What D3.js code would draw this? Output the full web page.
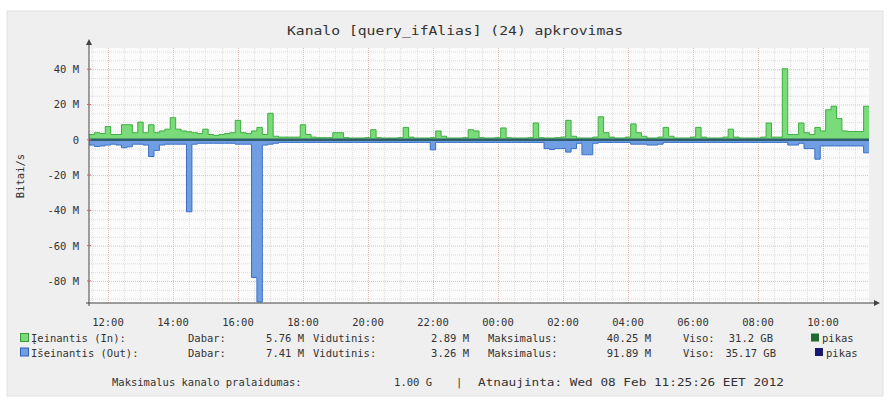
<!DOCTYPE html>
<html><head><meta charset="utf-8">
<script src="https://cdn.jsdelivr.net/npm/d3@7"></script>
<style>body{margin:0;background:#fff}svg{display:block}text{font-family:"DejaVu Sans Mono",monospace;fill:#333}</style>
</head><body><svg id="c" width="889" height="402"></svg>
<script>
const title = "Kanalo [query_ifAlias] (24) apkrovimas";
const yLabel = "Bitai/s";
const startTime = new Date(2012, 1, 7, 11, 25);
const endTime = new Date(2012, 1, 8, 11, 25);
const binMinutes = 10;
const yTicks = [40, 20, 0, -20, -40, -60, -80];
const xTickHours = [12, 14, 16, 18, 20, 22, 0, 2, 4, 6, 8, 10];
// Mbit/s per 10-minute bin
const inValues = [3,4,3.5,7.5,3,3,8.5,8.5,4,10,4,8.5,4,5,6,12.5,6,5,4.5,4,3.5,6,3,2.5,3,3.5,4,11,4,3.5,5,7,3,15,2,1.5,1.5,1.5,1.5,8.5,3,1.5,1.2,1.2,1.2,4,4,1.2,1,1,1,1.2,5.7,1.2,1,1,1,1.2,7,1.5,1,1,1,1.2,5,2,1,1,1,1.2,5.7,5,1.2,1,1,1.2,6.7,1.2,1,1,1,1.2,9.5,1.2,1,1,1.2,1.5,11,2,1,1,1,1.5,13,4,1.5,1,1,1.5,9,4,2,1,1,1.5,7,2,1,1,1,1.5,7,1.5,1,1,1,1.5,6,1.5,1,1,1,1,1.5,9.5,1.5,1.5,40.25,3,3,9.5,4,3,7,5,17,19,12,5,4.7,4.7,4.7,19];
const outValues = [3,3.8,3.5,3,2.5,3,4.5,4,2.5,2.5,3,9.5,6,3,2.5,2.5,2.5,2.5,40.8,2.5,2,2,2,2,2,2,2,2.5,2.5,2.5,78,91.89,3,2.5,2,1.5,1.5,1.5,1.5,1.5,1.5,1.5,1.5,1.5,1.5,1.5,1.5,1.5,1.5,1.5,1.5,1.5,1.5,1.5,1.5,1.5,1.5,1.5,1.5,1.5,1.5,1.5,1.5,5.7,1.5,1.5,1.5,1.5,1.5,1.5,1.5,1.5,1.5,1.5,1.5,1.5,1.5,1.5,1.5,1.5,1.5,1.5,1.5,1.5,5,5.5,5,5,7,5,2,8.5,8.5,2,1.5,1.5,1.5,1.5,1.5,1.5,2.5,2.5,2.5,3,3,2.5,1.5,1.5,1.5,1.5,1.5,1.5,1.5,1.5,1.5,1.5,1.5,1.5,1.5,1.5,1.5,1.5,1.5,1.5,1.5,1.5,1.5,1.5,1.5,3,3,2,5,5,11,3.5,3.5,3.5,3.5,3.5,3.5,3.5,3.5,7.4];
const legendRows = [
  {name:"Įeinantis (In):", now:"5.76 M", avg:"2.89 M", max:"40.25 M", total:"31.2 GB"},
  {name:"Išeinantis (Out):", now:"7.41 M", avg:"3.26 M", max:"91.89 M", total:"35.17 GB"}
];
const footer1 = "Maksimalus kanalo pralaidumas:";
const footerBw = "1.00 G";
const footer2 = "Atnaujinta: Wed 08 Feb 11:25:26 EET 2012";

const svg = d3.select("#c");
const L = 89, R = 869, T = 48, B = 303;
const x = d3.scaleTime().domain([startTime, endTime]).range([L, R]);
const y = d3.scaleLinear().domain([-92.5, 52]).range([B, T]);

svg.append("rect").attr("x",7).attr("y",11).attr("width",876).attr("height",385).attr("fill","#efefef").attr("stroke","#e2e2e2");
svg.append("rect").attr("x",L).attr("y",T).attr("width",R-L).attr("height",B-T).attr("fill","#fbfbfb");

// grid
const g = svg.append("g");
d3.range(-90, 51, 5).forEach(v => {
  const major = v % 20 === 0;
  g.append("line").attr("x1",L).attr("x2",R).attr("y1",y(v)+0.5).attr("y2",y(v)+0.5)
   .attr("stroke", major ? "#f0b9b9" : "#e4dcdc").attr("stroke-dasharray","1,1");
});
const minorTimes = d3.timeMinute.every(30).range(startTime, endTime);
minorTimes.forEach(t => {
  const major = t.getMinutes() === 0 && t.getHours() % 2 === 0;
  g.append("line").attr("y1",T).attr("y2",B).attr("x1",Math.round(x(t))+0.5).attr("x2",Math.round(x(t))+0.5)
   .attr("stroke", major ? "#f0b9b9" : "#e4dcdc").attr("stroke-dasharray","1,1");
});

const data = inValues.map((v,i) => ({t: new Date(+startTime + i*binMinutes*60000), inV: v, outV: outValues[i]}));
data.push({t: endTime, inV: inValues[inValues.length-1], outV: outValues[outValues.length-1]});

const areaIn = d3.area().x(d=>x(d.t)).y0(y(0)).y1(d=>y(d.inV)).curve(d3.curveStepAfter);
const lineIn = d3.line().x(d=>x(d.t)).y(d=>y(d.inV)).curve(d3.curveStepAfter);
const areaOut = d3.area().x(d=>x(d.t)).y0(y(0)).y1(d=>y(-d.outV)).curve(d3.curveStepAfter);
const lineOut = d3.line().x(d=>x(d.t)).y(d=>y(-d.outV)).curve(d3.curveStepAfter);

svg.append("path").datum(data).attr("d",areaIn).attr("fill","#79db79");
svg.append("path").datum(data).attr("d",lineIn).attr("fill","none").attr("stroke","#3fae3f").attr("stroke-width",1);
svg.append("path").datum(data).attr("d",areaOut).attr("fill","#6f9fe2");
svg.append("path").datum(data).attr("d",lineOut).attr("fill","none").attr("stroke","#3c6fc6").attr("stroke-width",1);
svg.append("line").attr("x1",L).attr("x2",R).attr("y1",y(0)).attr("y2",y(0)).attr("stroke","#2e5e6c").attr("stroke-width",2.5);

// axes
svg.append("line").attr("x1",L).attr("x2",L).attr("y1",B+3).attr("y2",T-4).attr("stroke","#444");
svg.append("path").attr("d",`M${L-3},${T-3}L${L},${T-9}L${L+3},${T-3}Z`).attr("fill","#444");
svg.append("line").attr("x1",L-3).attr("x2",R+6).attr("y1",B).attr("y2",B).attr("stroke","#444");
svg.append("path").attr("d",`M${R+5},${B-3}L${R+11},${B}L${R+5},${B+3}Z`).attr("fill","#444");

yTicks.forEach(v => {
  svg.append("text").attr("x",79).attr("y",y(v)+4).attr("text-anchor","end").attr("font-size",10.5)
    .text(v === 0 ? "0" : v + " M");
  svg.append("line").attr("x1",L-2).attr("x2",L+2).attr("y1",y(v)).attr("y2",y(v)).attr("stroke","#c66");
});
const xTickDates = xTickHours.map(h => { const d = new Date(startTime); if (h < 12) d.setDate(d.getDate()+1); d.setHours(h,0,0,0); return d; });
const fmt = d3.timeFormat("%H:%M");
xTickDates.forEach(d => {
  svg.append("text").attr("x",x(d)).attr("y",326).attr("text-anchor","middle").attr("font-size",10.5).text(fmt(d));
});

svg.append("text").attr("x",455).attr("y",35).attr("text-anchor","middle").attr("font-size",12.5)
  .attr("textLength",336).attr("lengthAdjust","spacingAndGlyphs").text(title);
svg.append("text").attr("transform","translate(24,176) rotate(-90)").attr("text-anchor","middle").attr("font-size",10.5).text(yLabel);

// legend
const inColors = {fill:"#79db79", stroke:"#3a9a3a", peak:"#1f6a32"};
const outColors = {fill:"#6f9fe2", stroke:"#2f5fb0", peak:"#17176e"};
legendRows.forEach((r,i) => {
  const yy = 342 + i*14.5;
  const c = i === 0 ? inColors : outColors;
  svg.append("rect").attr("x",20.5).attr("y",yy-8.5).attr("width",8).attr("height",8).attr("fill",c.fill).attr("stroke",c.stroke);
  const t = (xx, s, anchor) => svg.append("text").attr("x",xx).attr("y",yy).attr("font-size",10.5).attr("text-anchor",anchor||"start").text(s);
  t(31, r.name);
  t(188, "Dabar:");
  t(304, r.now, "end");
  t(313, "Vidutinis:");
  t(469, r.avg, "end");
  t(488, "Maksimalus:");
  t(651, r.max, "end");
  t(683, "Viso:");
  t(i===0 ? 773 : 776, r.total, "end");
  const bx = i === 0 ? 811 : 815;
  svg.append("rect").attr("x",bx).attr("y",yy-8.5).attr("width",8).attr("height",8).attr("fill",c.peak);
  t(bx+11, "pikas");
});
svg.append("text").attr("x",112).attr("y",386).attr("font-size",10.5).text(footer1);
svg.append("text").attr("x",432).attr("y",386).attr("font-size",10.5).attr("text-anchor","end").text(footerBw);
svg.append("text").attr("x",456).attr("y",386).attr("font-size",10.5).text("|");
svg.append("text").attr("x",478).attr("y",386).attr("font-size",10.5).attr("textLength",306).attr("lengthAdjust","spacingAndGlyphs").text(footer2);
</script></body></html>
